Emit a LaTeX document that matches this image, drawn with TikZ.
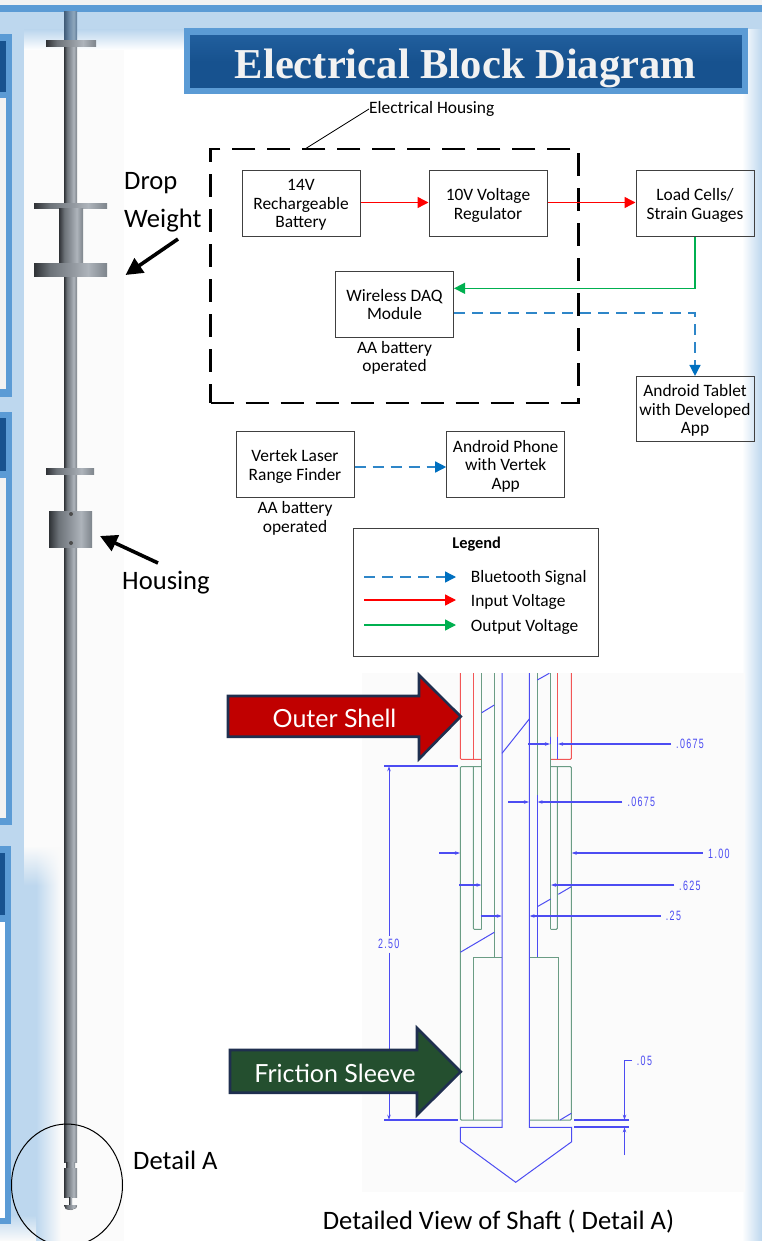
\documentclass[tikz,border=0pt]{standalone}
\usepackage{fontspec}
\setmainfont{Carlito}
\newfontfamily\titlefont{Liberation Serif}
\newfontfamily\calloutfont{Lato}
\newfontfamily\cadfont[LetterSpace=10,FakeStretch=0.66]{Liberation Sans}
\usetikzlibrary{arrows.meta,positioning,fadings}

\definecolor{framebg}{HTML}{5B9BD5}
\definecolor{headbg}{HTML}{17528F}
\definecolor{headtop}{HTML}{22609F}
\definecolor{palebg}{HTML}{BDD7EE}
\definecolor{sheet}{HTML}{FBFBFB}
\definecolor{inred}{HTML}{FF0000}
\definecolor{outgreen}{HTML}{00B050}
\definecolor{btline}{HTML}{2E86C8}
\definecolor{bthead}{HTML}{0070C0}
\definecolor{cadblue}{HTML}{4C4CF2}
\definecolor{cadgreen}{HTML}{6A9C84}
\definecolor{cadred}{HTML}{F25555}
\definecolor{navyedge}{HTML}{1F2F4F}
\definecolor{shelly}{HTML}{C00000}
\definecolor{sleevy}{HTML}{244F2F}
\definecolor{steela}{HTML}{2F3236}
\definecolor{steelb}{HTML}{6C7278}
\definecolor{steelc}{HTML}{8E949B}
\definecolor{steeld}{HTML}{AEB4BB}
\definecolor{steele}{HTML}{7D848B}
\definecolor{topa}{HTML}{3F5B78}
\definecolor{topb}{HTML}{6E8BA8}
\definecolor{topc}{HTML}{8FA7BC}
\definecolor{topd}{HTML}{5D7B99}
\pgfdeclarehorizontalshading{metal}{100bp}{
  color(0bp)=(steela); color(25bp)=(steela);
  color(36bp)=(steelb); color(50bp)=(steelc);
  color(62bp)=(steeld); color(75bp)=(steele); color(100bp)=(steele)}
\pgfdeclarehorizontalshading{metaltop}{100bp}{
  color(0bp)=(topa); color(25bp)=(topa);
  color(45bp)=(topb); color(62bp)=(topc);
  color(75bp)=(topd); color(100bp)=(topd)}

\begin{document}
\begin{tikzpicture}[
  x=1pt,y=-1pt,
  stage/.style={
    draw=black!75,
    line width=1pt,
    minimum width=118pt,
    minimum height=65.5pt,
    inner sep=0pt,
    text depth=0pt,
    align=center,
    font=\fontsize{17.4}{18.7}\selectfont
  },
  note/.style={align=center,inner sep=0pt,font=\fontsize{17.4}{18.4}\selectfont},
  biglabel/.style={inner sep=0pt,font=\fontsize{26.6}{30}\selectfont},
  input/.style={-{Stealth[length=11pt,width=11pt,inset=0pt]},inred,line width=1.4pt},
  output/.style={-{Stealth[length=11pt,width=11pt,inset=0pt]},outgreen,line width=1.4pt},
  bluetooth/.style={-{Stealth[length=11pt,width=11pt,inset=0pt,bthead]},btline,line width=1.4pt,dash pattern=on 11pt off 7pt},
  pointer/.style={-{Stealth[length=17pt,width=17pt,inset=0pt]},black,line width=3.6pt},
  steel/.style={shading=metal},
  redwall/.style={cadred,line width=1pt},
  greenwall/.style={cadgreen,line width=1pt},
  bluewall/.style={cadblue,line width=1pt},
  dimline/.style={cadblue,line width=1.5pt},
  dimtip/.style={cadblue,line width=1.5pt,-{Stealth[length=5pt,width=3.5pt]}},
  dimtext/.style={cadblue,inner sep=0pt,font=\cadfont\fontsize{13.5}{15}\selectfont},
  callout/.style={draw=navyedge,line width=2.6pt,miter limit=10},
  calloutlabel/.style={white,inner sep=0pt,font=\calloutfont\fontsize{25}{28}\selectfont}
]
  \useasboundingbox (0,0) rectangle (762,1241);
  \clip (0,0) rectangle (762,1241);

  % page background
  \fill[white] (0,0) rectangle (762,1241);
  \fill[sheet] (24,30) rectangle (124,1241);
  \fill[black!5] (0,0) rectangle (762,5);
  \fill[palebg] (0,12) rectangle (762,30);
  \shade[top color=palebg,bottom color=white] (24,30) rectangle (762,50);
  \fill[framebg] (0,5) rectangle (762,12);
  \fill[palebg] (0,12) rectangle (24,850);
  \shade[left color=white,right color=palebg] (742,30) rectangle (762,1241);
  \fill[palebg] (0,846) rectangle (36,1215);
  \shade[left color=palebg,right color=sheet] (36,846) rectangle (61,1241);
  \fill[sheet,path fading=south] (24,846) rectangle (61,886);
  \shade[top color=palebg,bottom color=sheet] (0,1215) rectangle (36,1241);

  % panels cut off at the left edge
  \fill[framebg] (0,34) rectangle (12,396.5);
  \fill[headbg] (0,41) rectangle (6,92);
  \fill[black!5] (0,98) rectangle (6,389);
  \fill[framebg] (0,412) rectangle (12,825);
  \fill[headbg] (0,418) rectangle (6,471);
  \fill[black!5] (0,478) rectangle (6,818);
  \fill[framebg] (0,846) rectangle (11,1224);
  \fill[headbg] (0,853) rectangle (4.5,915);
  \fill[white] (0,922) rectangle (4.5,1218);

  % title
  \node[draw=framebg,line width=6.5pt,top color=headtop,bottom color=headbg,middle color=headbg,
    minimum width=558pt,minimum height=59.5pt,inner sep=0pt] (banner) at (466,61.5) {};
  \node[inner sep=0pt,text=black!5,font=\titlefont\bfseries\fontsize{42.6}{46}\selectfont] (title) at (465.5,68) {Electrical Block Diagram};

  % shaft
  \fill[shading=metaltop] (64,12) rectangle (77,41);
  \fill[steel] (64,41) rectangle (77,1162);
  \fill[steel] (66,1162) rectangle (75,1168);
  \fill[steel] (64,1168) rectangle (77,1197);
  \fill[steel] (69,1197) rectangle (72,1205);
  \fill[steel] (64,1205) -- (77,1205) -- (76,1208) -- (71,1210) -- (66,1209) -- cycle;
  \fill[steel] (46,41) rectangle (96,47);
  \fill[steel] (34,204) rectangle (107,209);
  \fill[steel] (59,209) rectangle (83,263);
  \fill[steel] (34,263) rectangle (107,276);
  \fill[steel] (46,468) rectangle (94,474);
  \fill[steel] (49,511) rectangle (92,547);
  \fill[black!70] (71,514) circle (2pt);
  \fill[black!70] (71,543) circle (2pt);
  \draw[black,line width=1pt] (67,1185) ellipse (55.5pt and 61pt);

  % labels beside the shaft
  \node[biglabel,anchor=west] (drop) at (124,183) {Drop};
  \node[biglabel,anchor=west] (weight) at (124,221) {Weight};
  \node[biglabel,anchor=west] (housing) at (122,583) {Housing};
  \node[biglabel,anchor=west] (detaila) at (133,1160) {Detail A};
  \coordinate (weightend) at (178,239);
  \coordinate (weighttip) at (125.5,275);
  \coordinate (housingend) at (158,563);
  \coordinate (housingtip) at (100,536);
  \draw[pointer] (weightend) -- (weighttip);
  \draw[pointer] (housingend) -- (housingtip);

  % electrical blocks
  \node[draw=black,line width=2.6pt,dash pattern=on 23pt off 12pt,minimum width=368pt,minimum height=253.7pt,inner sep=0pt] (casing) at (394.6,276) {};
  \node[stage] (battery) at (301,203.7) {14V\\Rechargeable\\Battery};
  \node[stage,right=68pt of battery] (regulator) {10V Voltage\\Regulator};
  \node[stage,right=88pt of regulator] (loadcell) {Load Cells/\\Strain Guages};
  \node[stage] (daq) at (394.5,304.5) {Wireless DAQ\\Module};
  \node[stage,below=139pt of loadcell] (tablet) {Android Tablet\\with Developed\\App};
  \node[note,below=3.5pt of daq] (daqnote) {AA battery\\operated};
  \node[stage] (laser) at (295,464.7) {Vertek Laser\\Range Finder};
  \node[stage] (phone) at (505.7,464.7) {Android Phone\\with Vertek\\App};
  \node[note,below=3.5pt of laser] (lasernote) {AA battery\\operated};
  \node[note,anchor=west] (casinglabel) at (369,109) {Electrical Housing};
  \draw[black,line width=0.8pt] (casinglabel.west) -- (305,149);

  \draw[input] (battery.east |- 0,202.5) -- (regulator.west |- 0,202.5);
  \draw[input] (regulator.east |- 0,202.5) -- (loadcell.west |- 0,202.5);
  \draw[output] (loadcell.south) |- (daq.east |- 0,288.3);
  \draw[bluetooth] (daq.east |- 0,313) -| (tablet.north);
  \draw[bluetooth] (laser.east |- 0,467) -- (phone.west |- 0,467);

  % legend
  \node[draw=black!75,line width=1pt,minimum width=245.3pt,minimum height=127.7pt,inner sep=0pt] (legend) at (476.3,592.2) {};
  \node[note,font=\bfseries\fontsize{16.4}{18}\selectfont] (legendtitle) at (476.7,544) {Legend};
  \node[note,anchor=west] (btlabel) at (470.7,578) {Bluetooth Signal};
  \node[note,anchor=west] (inlabel) at (470.7,602) {Input Voltage};
  \node[note,anchor=west] (outlabel) at (470.7,627) {Output Voltage};
  \coordinate (btstart) at (364,577);
  \coordinate (instart) at (364,600);
  \coordinate (outstart) at (364,625);
  \draw[bluetooth] (btstart) -- (456,577);
  \draw[input] (instart) -- (456,600);
  \draw[output] (outstart) -- (456,625);

  % detail of the shaft
  \fill[sheet] (362,673) rectangle (745,1192);
  \draw[redwall,rounded corners=1pt] (460.3,673) -- (460.3,759.3) -- (481.7,759.3);
  \draw[redwall] (473.3,673) -- (473.3,759.3);
  \draw[redwall,rounded corners=1pt] (571.3,673) -- (571.3,759.3) -- (550.7,759.3);
  \draw[redwall] (557.3,673) -- (557.3,759.3);
  \draw[greenwall] (481.7,673) -- (481.7,929.3);
  \draw[greenwall] (494.3,673) -- (494.3,957.3);
  \draw[greenwall] (537.3,673) -- (537.3,795);
  \draw[greenwall] (550.7,673) -- (550.7,929.3);
  \draw[greenwall,rounded corners=1pt] (481.7,766.7) -- (460.3,766.7) -- (460.3,1120) -- (502,1120);
  \draw[greenwall,rounded corners=1pt] (473.3,766.7) -- (473.3,929.3) -- (481.7,929.3);
  \draw[greenwall,rounded corners=1pt] (550.7,766.7) -- (571.3,766.7) -- (571.3,1120) -- (529.3,1120);
  \draw[greenwall,rounded corners=1pt] (557.3,766.7) -- (557.3,929.3) -- (550.7,929.3);
  \draw[greenwall] (502,957.3) -- (473.7,957.3) -- (473.7,1120);
  \draw[greenwall] (529.3,957.3) -- (558,957.3) -- (558,1120);
  \draw[bluewall] (537.3,795) -- (537.3,957.3);
  \draw[bluewall] (502,673) -- (502,1127.3) -- (460.3,1127.3) -- (460.3,1141.7) -- (515.7,1182.3)
    -- (571.7,1141.7) -- (571.7,1127.3) -- (529.3,1127.3) -- (529.3,673);
  \draw[bluewall] (481.7,712.7) -- (494.3,705);
  \draw[bluewall] (502,753.3) -- (529.3,719);
  \draw[bluewall] (537.3,680) -- (549.3,673.3);
  \draw[bluewall] (558.3,894.3) -- (571.3,886.7);
  \draw[bluewall] (537.3,906.7) -- (550.7,899);
  \draw[bluewall] (460.3,952.3) -- (494.3,932.3);
  \draw[bluewall] (560,1120) -- (571.3,1113.3);

  % dimensions
  \draw[dimline,line width=0.7pt] (550.7,736.7) -- (550.7,744) (557.3,736.7) -- (557.3,759);
  \draw[dimtip] (528.3,744) -- (550,744);
  \draw[dimtip] (671,744) -- (558,744);
  \node[dimtext,anchor=west] (dimshell) at (676,744) {.0675};
  \draw[dimtip] (508,802) -- (529,802);
  \draw[dimtip] (622.3,802) -- (537.6,802);
  \node[dimtext,anchor=west] (dimwall) at (627.3,802) {.0675};
  \draw[dimtip] (439,853) -- (460,853);
  \draw[dimtip] (702.7,853) -- (571.7,853);
  \node[dimtext,anchor=west] (dimouter) at (708,854) {1.00};
  \draw[dimtip] (459.3,885) -- (481.4,885);
  \draw[dimtip] (674.3,885) -- (551,885);
  \node[dimtext,anchor=west] (dimmiddle) at (679,886) {.625};
  \draw[dimtip] (480.7,916) -- (501.7,916);
  \draw[dimtip] (660.7,916) -- (529.6,916);
  \node[dimtext,anchor=west] (diminner) at (665.7,916) {.25};
  \draw[dimline] (384,766) -- (457.7,766);
  \draw[dimline] (384,1120) -- (457.7,1120);
  \node[dimtext] (dimlength) at (388.7,944) {2.50};
  \draw[dimtip,line width=1pt] (389,936) -- (389,766.3);
  \draw[dimtip,line width=1pt] (389,952.7) -- (389,1119.7);
  \draw[dimline] (574,1120) -- (629.3,1120);
  \draw[dimline] (574,1127) -- (629.3,1127);
  \draw[dimtip,line width=1pt] (632,1060.5) -- (624.5,1060.5) -- (624.5,1119.7);
  \draw[dimtip,line width=1pt] (624.5,1155) -- (624.5,1127.4);
  \node[dimtext,anchor=west] (dimgap) at (636.7,1060.5) {.05};

  % callouts
  \draw[callout,fill=shelly] (228,696) -- (419,696) -- (419,675) -- (460.7,716.5) -- (419,759) -- (419,736.7) -- (228,736.7) -- cycle;
  \node[calloutlabel] (shelllabel) at (334.5,718) {Outer Shell};
  \draw[callout,fill=sleevy] (230,1050) -- (417,1050) -- (417,1028) -- (460.7,1071.7) -- (417,1115) -- (417,1092.7) -- (230,1092.7) -- cycle;
  \node[calloutlabel] (sleevelabel) at (335,1073) {Friction Sleeve};
  \node[biglabel] (caption) at (498.5,1222) {Detailed View of Shaft ( Detail A)};
\end{tikzpicture}
\end{document}
